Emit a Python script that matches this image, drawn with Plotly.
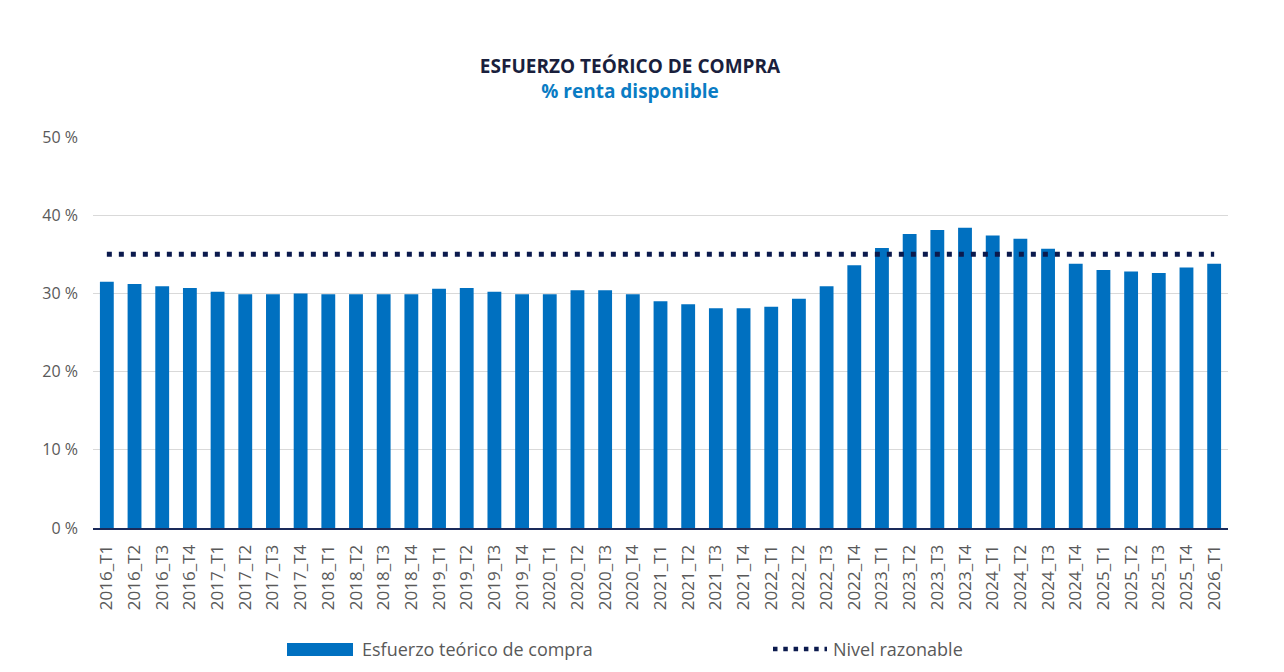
import plotly.graph_objects as go

# quarters 2016_T1 .. 2026_T1
periodos = [
    "2016_T1", "2016_T2", "2016_T3", "2016_T4",
    "2017_T1", "2017_T2", "2017_T3", "2017_T4",
    "2018_T1", "2018_T2", "2018_T3", "2018_T4",
    "2019_T1", "2019_T2", "2019_T3", "2019_T4",
    "2020_T1", "2020_T2", "2020_T3", "2020_T4",
    "2021_T1", "2021_T2", "2021_T3", "2021_T4",
    "2022_T1", "2022_T2", "2022_T3", "2022_T4",
    "2023_T1", "2023_T2", "2023_T3", "2023_T4",
    "2024_T1", "2024_T2", "2024_T3", "2024_T4",
    "2025_T1", "2025_T2", "2025_T3", "2025_T4",
    "2026_T1",
]

esfuerzo = [
    31.5, 31.2, 30.9, 30.7,
    30.2, 29.9, 29.9, 30.0,
    29.9, 29.9, 29.9, 29.9,
    30.6, 30.7, 30.2, 29.9,
    29.9, 30.4, 30.4, 29.9,
    29.0, 28.6, 28.1, 28.1,
    28.3, 29.3, 30.9, 33.6,
    35.8, 37.6, 38.1, 38.4,
    37.4, 37.0, 35.7, 33.8,
    33.0, 32.8, 32.6, 33.3,
    33.8,
]

nivel_razonable = [35] * len(periodos)

AZUL = "#0070c0"
MARINO = "#0b1a4d"
GRIS = "#595959"

# page body has an 8px margin, so the plot box is placed 8px up/left
L, T = 85, 129          # plot left / top in figure px
PW, PH = 1135, 391      # plot width / height


def px_x(x):
    return (x - 8 - L) / PW


def px_y(y):
    return (T + PH - (y - 8)) / PH


fig = go.Figure()

fig.add_trace(go.Bar(
    x=periodos,
    y=esfuerzo,
    name="Esfuerzo teórico de compra",
    marker=dict(color=AZUL, line=dict(width=0)),
    showlegend=False,
))

fig.add_trace(go.Scatter(
    x=periodos,
    y=nivel_razonable,
    mode="lines",
    name="Nivel razonable",
    line=dict(color=MARINO, width=5, dash="5px,7px"),
    showlegend=False,
))

fig.update_layout(
    width=1284,
    height=672,
    paper_bgcolor="white",
    plot_bgcolor="white",
    margin=dict(l=L, r=1284 - L - PW, t=T, b=672 - T - PH),
    bargap=0.5,
    font=dict(family="Open Sans", color=GRIS),
    title=dict(
        text="<b>ESFUERZO TEÓRICO DE COMPRA</b><br>"
             "<span style='color:#0a7cc4'><b>% renta disponible</b></span>",
        x=622 / 1284, xanchor="center",
        y=1 - 65 / 672, yanchor="middle",
        font=dict(family="Open Sans", size=19, color="#1a1f3d"),
    ),
)

fig.update_xaxes(
    type="category",
    tickangle=-90,
    tickfont=dict(size=17, color=GRIS),
    showline=True,
    linecolor="#1a2a5a",
    linewidth=2,
    showgrid=False,
    ticks="",
    ticklabelstandoff=8,
)

fig.update_yaxes(
    range=[0, 50],
    dtick=10,
    ticksuffix=" %",
    tickfont=dict(size=16, color=GRIS),
    showgrid=True,
    gridcolor="#d9d9d9",
    gridwidth=1,
    zeroline=False,
    showline=False,
    ticks="",
    ticklabelstandoff=14,
)

# legend drawn by hand to get the wide bar swatch
fig.add_shape(type="rect", xref="paper", yref="paper",
              x0=px_x(287), x1=px_x(353),
              y0=px_y(643), y1=px_y(656),
              fillcolor=AZUL, line=dict(width=0))
fig.add_annotation(text="Esfuerzo teórico de compra", xref="paper", yref="paper",
                   x=px_x(360), y=px_y(649),
                   xanchor="left", yanchor="middle", showarrow=False,
                   font=dict(size=18, color=GRIS))
fig.add_shape(type="line", xref="paper", yref="paper",
              x0=px_x(773), x1=px_x(827),
              y0=px_y(649), y1=px_y(649),
              line=dict(color=MARINO, width=4.5, dash="4.5px,5.8px"))
fig.add_annotation(text="Nivel razonable", xref="paper", yref="paper",
                   x=px_x(831), y=px_y(649),
                   xanchor="left", yanchor="middle", showarrow=False,
                   font=dict(size=18, color=GRIS))

fig.write_html("out.html")
